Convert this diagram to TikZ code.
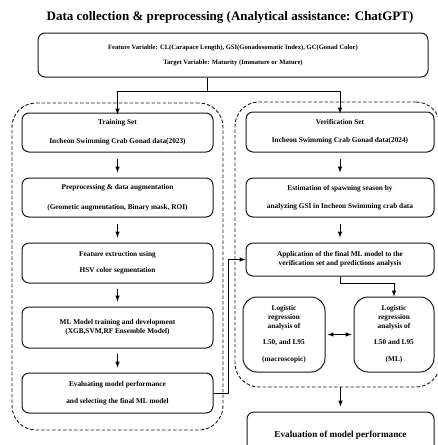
\documentclass[tikz,border=0pt]{standalone}
\usepackage{fontspec}
\setmainfont{Liberation Serif}
\usetikzlibrary{arrows,positioning,shapes}

\begin{document}
\begin{tikzpicture}[x=1pt,y=-1pt]
\tikzstyle{every node}=[font=\fontsize{7.3}{9}\selectfont\bfseries]
\tikzstyle{box}=[draw=black!90, line width=1pt, rectangle, rounded corners=7pt, align=center, inner sep=2pt]
\tikzstyle{group}=[draw=black!90, line width=0.9pt, dash pattern=on 3.5pt off 2pt, rectangle, rounded corners=24pt, inner sep=0pt]
\tikzstyle{flow}=[-latex, line width=1pt, black]

\useasboundingbox (0,0) rectangle (438,445);
\clip (0,0) rectangle (438,445);

\node[font=\fontsize{13}{15}\selectfont\bfseries] at (230,17) (title) {Data collection \& preprocessing (Analytical assistance: ChatGPT)};

\node[box, minimum width=390, minimum height=44, font=\fontsize{6.6}{8}\selectfont\bfseries] at (233,55) (vars) {
Feature Variable: CL(Carapace Length), GSI(Gonadosomatic Index), GC(Gonad Color)\\[7pt]
Target Variable: Maturity (Immature or Mature)};

% dashed groups
\node[group, minimum width=211, minimum height=327] at (117.5,266.5) (trainset) {};
\node[group, minimum width=205, minimum height=285] at (337.5,244.5) (verifset) {};

% training column
\node[box, minimum width=191, minimum height=39] at (117.5,132.5) (train) {
Training Set\\[10pt]
Incheon Swimming Crab Gonad data(2023)};
\node[box, minimum width=191, minimum height=39] at (117.5,197.5) (prep) {
Preprocessing \& data augmentation\\[11pt]
(Geometic augmentation, Binary mask, ROI)};
\node[box, minimum width=191, minimum height=40] at (117.5,263) (feat) {
Feature extruction using\\[7pt]
HSV color segmentation};
\node[box, minimum width=191, minimum height=41] at (117.5,327.5) (mlmodel) {
ML Model training and development\\
(XGB,SVM,RF Ensemble Model)};
\node[box, minimum width=191, minimum height=40] at (117.5,393) (select) {
Evaluating model performance\\[8pt]
and selecting the final ML model};

% verification column
\node[box, minimum width=188, minimum height=40] at (340,132) (verif) {
Verification Set\\[9pt]
Incheon Swimming Crab Gonad data(2024)};
\node[box, minimum width=188, minimum height=39] at (340,197.5) (spawn) {
Estimation of spawning season by\\[9pt]
analyzing GSI in Incheon Swimming crab data};
\node[box, minimum width=188, minimum height=33] at (340,259.5) (apply) {
Application of the final ML model to the\\
verification set and predictions analysis};
\node[box, rounded corners=14pt, minimum width=82, minimum height=75] at (284,334.5) (lmacro) {
Logistic\\ regression\\ analysis of\\[7pt]
L50, and L95\\[8pt]
(macroscopic)};
\node[box, rounded corners=14pt, minimum width=80, minimum height=75] at (394,334.5) (lml) {
Logistic\\ regression\\ analysis of\\[7pt]
L50 and L95\\[8pt]
(ML)};

\node[box, minimum width=187, minimum height=46, font=\fontsize{9.2}{11}\selectfont\bfseries] at (340.5,435) (perf) {
Evaluation of model performance};

% connectors
\coordinate (fork) at (207,91);
\draw[line width=1pt, black] (vars.south -| fork) -- (fork);
\draw[flow] (fork) -| ([yshift=-2pt]train.north);
\draw[flow] (fork) -| ([yshift=-2pt]verif.north);

\draw[flow, shorten <=6pt, shorten >=5pt] (train) -- (prep);
\draw[flow, shorten <=6pt, shorten >=5pt] (prep) -- (feat);
\draw[flow, shorten <=5pt, shorten >=5pt] (feat) -- (mlmodel);
\draw[flow, shorten <=5pt, shorten >=5pt] (mlmodel) -- (select);

\draw[flow, shorten <=6pt, shorten >=5pt] (verif) -- (spawn);
\draw[flow, shorten <=6pt, shorten >=5pt] (spawn) -- (apply);

\draw[flow] (select.east) -- ++(15,0) |- (apply.west);
\draw[flow] (apply.south) -- ++(0,7) -| (lml.north);
\draw[latex-latex, line width=1pt, black, shorten <=2pt, shorten >=2pt] (lmacro) -- (lml);

\draw[flow, shorten >=5pt] (verifset.south -| perf.north) -- (perf.north);

\end{tikzpicture}
\end{document}
